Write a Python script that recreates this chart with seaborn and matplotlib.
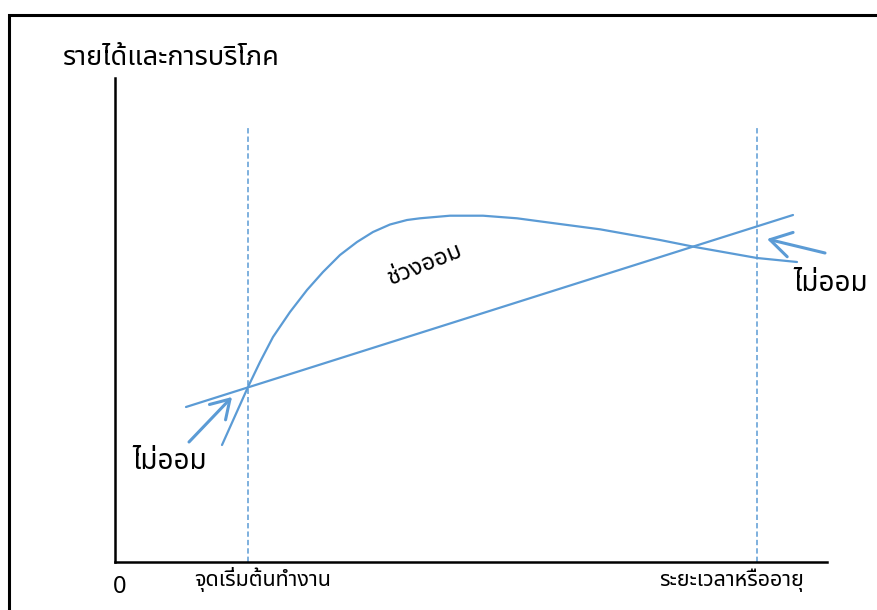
import matplotlib
matplotlib.use("Agg")
import matplotlib.pyplot as plt
from matplotlib import font_manager
from matplotlib.patches import Rectangle
import seaborn as sns
import pandas as pd

# ---------------- data ----------------
# horizontal: time / age units, vertical: income & consumption units
consumption_x = [7.1, 67.8]
consumption_y = [15.5, 34.7]

income_x = [10.7, 13.3, 14.5, 15.8, 17.5, 19.2, 20.8, 22.5, 24.2, 25.8, 27.5,
            29.2, 30.5, 33.5, 36.8, 40.2, 43.5, 48.5, 54.5, 58.0, 64.2, 68.2]
income_y = [11.7, 17.5, 20.0, 22.5, 25.0, 27.2, 29.0, 30.7, 32.0, 33.0, 33.75,
            34.2, 34.37, 34.63, 34.63, 34.37, 33.93, 33.27, 32.2, 31.5, 30.4, 30.0]

work_start_x = 13.3
retire_x = 64.2
marker_top = 43.4

title_text = "รายได้และการบริโภค"
no_save_text = "ไม่ออม"
save_text = "ช่วงออม"
origin_text = "0"
work_start_text = "จุดเริ่มต้นทำงาน"
age_text = "ระยะเวลาหรืออายุ"

# ---------------- font with Thai glyphs ----------------
def find_thai_font():
    preferred = ["Tahoma", "Noto Sans Thai", "Noto Sans Thai UI", "Loma", "Garuda",
                 "Norasi", "Kinnari", "Sawasdee", "Umpush", "Waree", "TH Sarabun New",
                 "Leelawadee UI", "Cordia New"]
    found = {}
    try:
        from fontTools.ttLib import TTFont
    except Exception:
        TTFont = None
    for f in font_manager.fontManager.ttflist:
        ok = False
        if TTFont is not None:
            try:
                tt = TTFont(f.fname, fontNumber=0, lazy=True)
                cmap = tt.getBestCmap() or {}
                ok = 0x0E23 in cmap and 0x0E34 in cmap
            except Exception:
                ok = False
        if ok:
            found[f.name] = f.name
    for p in preferred:
        if p in found:
            return p
    if found:
        return sorted(found)[0]
    return "DejaVu Sans"

sns.set_theme(style="white")
thai_font = find_thai_font()
plt.rcParams["font.family"] = [thai_font, "DejaVu Sans"]

blue = "#5B9BD5"

fig = plt.figure(figsize=(8.78, 6.10), dpi=100)
ax = fig.add_axes([0, 0, 1, 1])
ax.set_xlim(-11.5, 76.3)
ax.set_ylim(-4.8, 56.2)
ax.set_facecolor("white")

df_c = pd.DataFrame({"x": consumption_x, "y": consumption_y})
df_i = pd.DataFrame({"x": income_x, "y": income_y})
sns.lineplot(data=df_c, x="x", y="y", ax=ax, color=blue, lw=1.6, sort=False)
sns.lineplot(data=df_i, x="x", y="y", ax=ax, color=blue, lw=1.6, sort=False)

ax.vlines([work_start_x, retire_x], 0, marker_top, colors=blue, lw=1.1,
          linestyles=(0, (3.5, 2)))

# axes
for s in ["top", "right"]:
    ax.spines[s].set_visible(False)
ax.spines["left"].set_position(("data", 0))
ax.spines["bottom"].set_position(("data", 0))
ax.spines["left"].set_bounds(0, 48.4)
ax.spines["bottom"].set_bounds(0, 71.2)
for s in ["left", "bottom"]:
    ax.spines[s].set_color("black")
    ax.spines[s].set_linewidth(1.8)
ax.set_xticks([])
ax.set_yticks([])
ax.set_xlabel("")
ax.set_ylabel("")

# arrows
ax.annotate("", xy=(11.7, 16.5), xytext=(7.4, 12.0),
            arrowprops=dict(arrowstyle="->,head_length=0.65,head_width=0.4",
                            mutation_scale=20, color=blue, lw=2.2,
                            shrinkA=0, shrinkB=0))
ax.annotate("", xy=(65.2, 32.3), xytext=(71.0, 30.9),
            arrowprops=dict(arrowstyle="->,head_length=0.75,head_width=0.45",
                            mutation_scale=20, color=blue, lw=2.2,
                            shrinkA=0, shrinkB=0))

# texts
ax.text(-5.2, 50.4, title_text, fontsize=19.5, ha="left", va="center", color="black")
ax.text(1.7, 10.0, no_save_text, fontsize=20, ha="left", va="center", color="black")
ax.text(67.8, 27.8, no_save_text, fontsize=20, ha="left", va="center", color="black")
ax.text(31.0, 29.7, save_text, fontsize=17, ha="center", va="center",
        rotation=22, color="black")
ax.text(0.5, -2.5, origin_text, fontsize=17, ha="center", va="center", color="black")
ax.text(14.75, -1.8, work_start_text, fontsize=15.5, ha="center", va="center", color="black")
ax.text(61.65, -1.8, age_text, fontsize=15.5, ha="center", va="center", color="black")

# outer frame (cut by figure edge on right and bottom)
fig.patches.append(Rectangle((9.5 / 878, -0.1), 1.2, (610 - 14.5) / 610 + 0.1,
                             transform=fig.transFigure, fill=False,
                             edgecolor="black", lw=2.2))

fig.savefig("out.png", dpi=100)
